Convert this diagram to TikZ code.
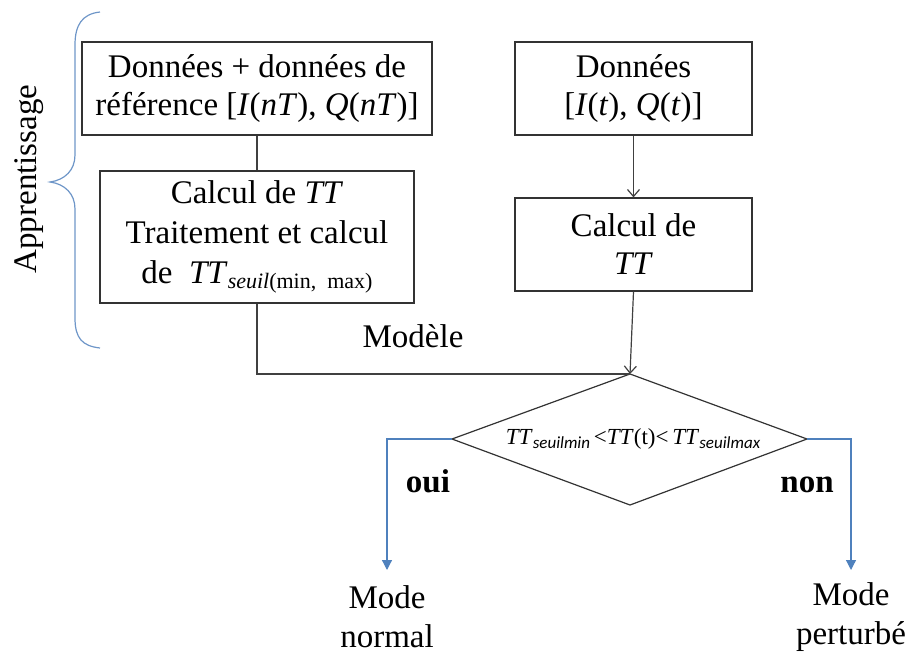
\documentclass[tikz,border=0pt]{standalone}
\usepackage{fontspec}
\setmainfont{Liberation Serif}
\newfontfamily\calfont{Carlito}
\usetikzlibrary{arrows.meta}
\definecolor{flowblue}{RGB}{79,129,189}
\definecolor{bracecol}{RGB}{110,150,200}
\begin{document}
\begin{tikzpicture}[x=0.5pt,y=-0.5pt,
  boxnode/.style={draw=black!80,line width=0.6pt,rectangle,inner sep=0pt,align=center,font=\fontsize{16.5}{19}\selectfont},
  lbl/.style={align=center,inner sep=0pt,font=\fontsize{16.5}{19.5}\selectfont},
  conn/.style={draw=black!75,line width=0.6pt},
  bluearrow/.style={draw=flowblue,line width=0.6pt,-{Triangle[length=5pt,width=5pt]}},
  blackarrow/.style={draw=black!75,line width=0.6pt,-{Straight Barb[length=3.5pt,width=6pt]}}]
\useasboundingbox (0,0) rectangle (909,652);
% boxes
\node[boxnode,minimum width=175pt,minimum height=46.5pt] (b1) at (257,88.5)
  {\rule{0pt}{5pt}Données + données de\\référence [\textit{I}(\textit{nT}), \textit{Q}(\textit{nT})]};
\node[boxnode,minimum width=157pt,minimum height=66pt,font=\fontsize{16.5}{20}\selectfont] (b2) at (257,237)
  {\rule{0pt}{5pt}Calcul de \textit{TT}\\Traitement et calcul\\de\ \ \textit{TT}\raisebox{-0.35ex}{\fontsize{11}{12}\selectfont\textit{seuil}(min,\ \ max)}};
\node[boxnode,minimum width=118.5pt,minimum height=46.5pt] (b3) at (633.5,88.5)
  {Données\\{[}\textit{I}(\textit{t}), \textit{Q}(\textit{t})]};
\node[boxnode,minimum width=118.5pt,minimum height=46.5pt] (b4) at (633.5,244.5)
  {Calcul de\\\textit{TT}};
% decision
\coordinate (dtop) at (630,374);
\coordinate (dleft) at (452,439);
\coordinate (dright) at (807,439);
\coordinate (dbot) at (630,505);
\draw[draw=black!80,line width=0.6pt] (dtop) -- (dright) -- (dbot) -- (dleft) -- cycle;
\node[inner sep=0pt,font=\fontsize{11.5}{13}\selectfont] (dt) at (633,439)
  {\textit{TT}\raisebox{-0.4ex}{\calfont\itshape\fontsize{8.5}{10}\selectfont seuilmin}\,<\textit{TT}(t)<\,\textit{TT}\raisebox{-0.4ex}{\calfont\itshape\fontsize{8.5}{10}\selectfont seuilmax}};
% outputs
\node[lbl,anchor=base] (mn) at (387,647) {Mode\\normal};
\node[lbl,anchor=base] (mp) at (851,644) {Mode\\perturbé};
\coordinate (ln) at (387,570);
\coordinate (lp) at (851,570);
% labels
\node[lbl,anchor=base] (mod) at (413,347) {Modèle};
\node[lbl,anchor=base,font=\fontsize{16.5}{19}\selectfont\bfseries] (oui) at (428,492) {oui};
\node[lbl,anchor=base,font=\fontsize{16.5}{19}\selectfont\bfseries] (non) at (807,492) {non};
\node[lbl,rotate=90] (app) at (29,179) {Apprentissage};
% brace
\draw[bracecol,line width=0.6pt] (100,12) .. controls (82,14) and (75,25) .. (75,45)
  -- (75,155) .. controls (75,170) and (65,180) .. (50,182)
  .. controls (65,184) and (75,194) .. (75,209)
  -- (75,318) .. controls (75,338) and (82,346) .. (100,348);
% connectors
\draw[conn] (b1.south) -- (b2.north);
\draw[conn] (b2.south) |- (dtop);
\draw[blackarrow] (b3.south) -- (b4.north);
\draw[blackarrow] (b4.south) -- (dtop);
\draw[bluearrow] (dleft) -| (ln);
\draw[bluearrow] (dright) -| (lp);
\end{tikzpicture}
\end{document}
